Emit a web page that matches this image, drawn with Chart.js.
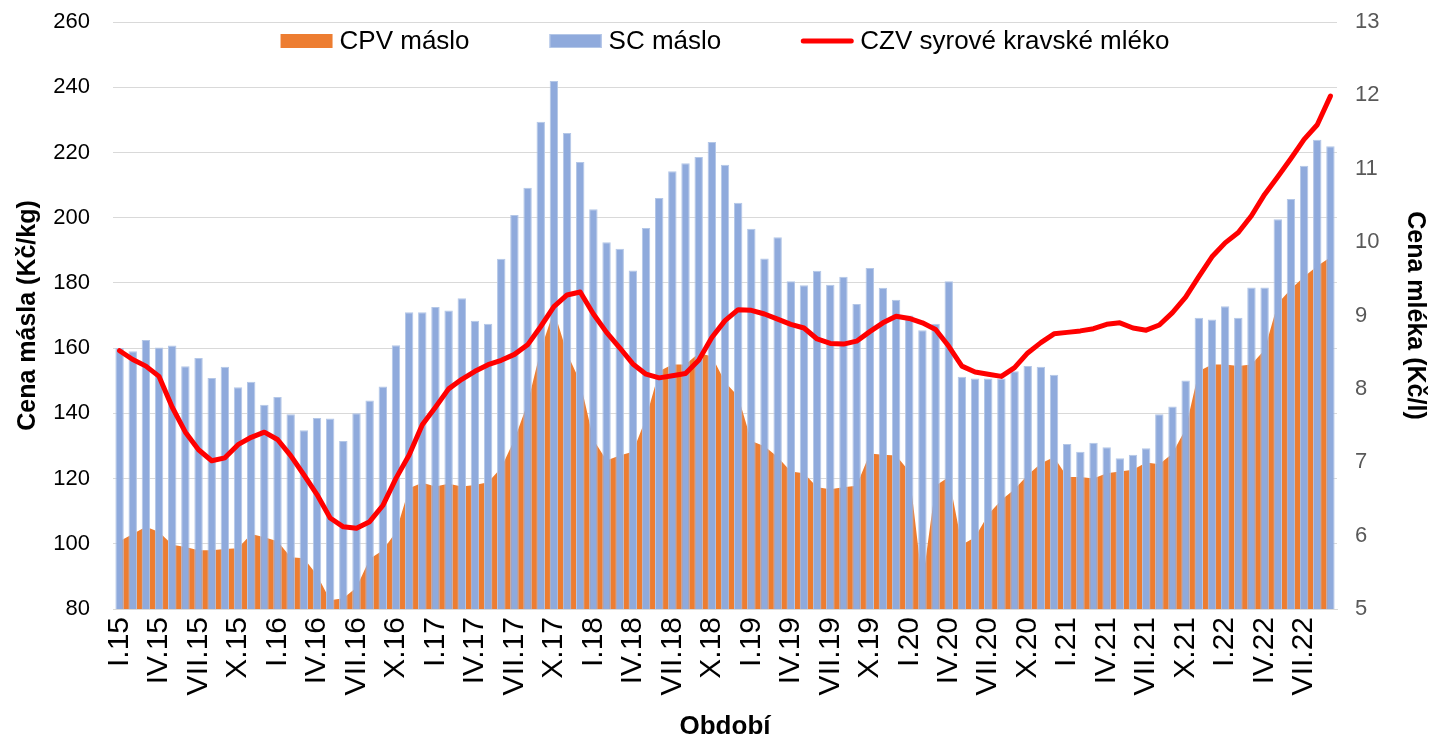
<!DOCTYPE html>
<html>
<head>
<meta charset="utf-8">
<script src="https://cdn.jsdelivr.net/npm/chart.js@4.4.1/dist/chart.umd.min.js"></script>
<style>
  html, body { margin: 0; padding: 0; background: #fff; }
  #chart { display: block; }
</style>
</head>
<body>
<canvas id="chart" width="1431" height="742"></canvas>
<script>
//---------------------------------------
// Data
//---------------------------------------

const roman = ['I', 'II', 'III', 'IV', 'V', 'VI', 'VII', 'VIII', 'IX', 'X', 'XI', 'XII'];

// období I.15 - IX.22
const months = [];
for (let y = 15; y <= 22; y++) {
  for (let m = 0; m < 12; m++) {
    if (y === 22 && m > 8) break;
    months.push(roman[m] + '.' + y);
  }
}

// CPV máslo (Kč/kg)
const cpv_maslo = [
  100.8, 103, 105.2, 103.6, 99.7, 99, 98, 98, 98.4, 98.6, 103, 102,
  100.8, 95.9, 95.6, 90.4, 82.7, 83.3, 86.6, 95.3, 98, 103.6, 117, 118.7,
  117.6, 118.4, 117.6, 118, 118.9, 123.3, 132, 143, 159.5, 171.5, 158.4, 149.6,
  132, 125.5, 127.1, 128.2, 138.6, 152.9, 155, 155, 158.4, 157.5, 149.6, 145.2,
  131.5, 129.9, 126.6, 122.2, 121.6, 117.3, 116.7, 117.3, 117.8, 127.7, 127.3, 127.1,
  122.2, 88, 117.8, 120.5, 99.7, 102, 109, 113.4, 116.7, 121.1, 124.6, 126.6,
  120.5, 120.5, 120, 121.6, 122.2, 122.7, 124.9, 124.4, 127.7, 135.3, 152.9, 155,
  155, 154.5, 155, 159.5, 173.7, 178.1, 181.9, 185.2, 187.9
];

// SC máslo (Kč/kg)
const sc_maslo = [
  160, 159, 162.5, 160.2, 160.8, 154.4, 157, 150.8, 154.3, 148, 149.7, 142.6,
  145, 139.7, 134.8, 138.6, 138.4, 131.5, 140, 143.9, 148.2, 160.9, 171, 171,
  172.6, 171.5, 175.3, 168.4, 167.5, 187.4, 200.8, 209.2, 229.4, 241.9, 226, 217.1,
  202.6, 192.5, 190.5, 183.8, 196.8, 206, 214.2, 216.7, 218.6, 223.2, 216.2, 204.6,
  196.6, 187.5, 194, 180.5, 179.3, 183.7, 179.4, 181.9, 173.5, 184.6, 178.5, 174.8,
  170, 165.5, 167.5, 180.5, 151.2, 150.7, 150.7, 150.7, 152.9, 154.5, 154.3, 151.8,
  130.6, 128.2, 131, 129.6, 126.2, 127.3, 129.3, 139.7, 142.1, 150.1, 169.3, 168.8,
  172.8, 169.3, 178.6, 178.6, 199.5, 205.7, 215.9, 223.9, 221.9
];

// CZV syrové kravské mléko (Kč/l)
const czv_mleko = [
  8.52, 8.40, 8.31, 8.17, 7.75, 7.41, 7.17, 7.02, 7.06, 7.24, 7.34, 7.41,
  7.31, 7.09, 6.83, 6.56, 6.24, 6.12, 6.10, 6.19, 6.41, 6.78, 7.10, 7.51,
  7.75, 8.00, 8.13, 8.24, 8.33, 8.39, 8.47, 8.60, 8.85, 9.12, 9.28, 9.32,
  9.02, 8.77, 8.56, 8.34, 8.20, 8.15, 8.18, 8.21, 8.39, 8.70, 8.93, 9.08,
  9.07, 9.02, 8.95, 8.88, 8.83, 8.68, 8.62, 8.61, 8.65, 8.78, 8.90, 8.99,
  8.96, 8.90, 8.81, 8.58, 8.31, 8.23, 8.20, 8.17, 8.29, 8.49, 8.63, 8.75,
  8.77, 8.79, 8.82, 8.88, 8.90, 8.83, 8.80, 8.87, 9.04, 9.25, 9.53, 9.80,
  9.99, 10.13, 10.36, 10.65, 10.89, 11.14, 11.40, 11.60, 11.99
];

//---------------------------------------
// Chart
//---------------------------------------

const font_family = "'Liberation Sans', Arial, sans-serif";
const grid_color = '#d9d9d9';

// legenda uvnitř grafu (jako v Excelu)
const inner_legend = {
  id: 'inner_legend',
  afterDraw(chart) {
    const ctx = chart.ctx;
    const area = chart.chartArea;
    const font_size = 26;
    const box_w = 52, box_h = 14, text_gap = 7, item_gap = 80;
    ctx.save();
    ctx.font = font_size + 'px ' + font_family;
    ctx.textBaseline = 'middle';

    const items = chart.data.datasets.map(function (ds) {
      return { ds: ds, w: box_w + text_gap + ctx.measureText(ds.label).width };
    });
    let total = -item_gap;
    items.forEach(function (it) { total += it.w + item_gap; });

    let x = (area.left + area.right) / 2 - total / 2;
    const y = area.top + 19;
    items.forEach(function (it) {
      const ds = it.ds;
      if (ds.fill === false) {
        ctx.strokeStyle = ds.borderColor;
        ctx.lineWidth = 5;
        ctx.lineCap = 'round';
        ctx.beginPath();
        ctx.moveTo(x + 2, y);
        ctx.lineTo(x + box_w - 2, y);
        ctx.stroke();
      } else {
        ctx.fillStyle = ds.backgroundColor;
        ctx.fillRect(x, y - box_h / 2, box_w, box_h);
        if (ds.type === 'bar') {
          ctx.strokeStyle = ds.borderColor;
          ctx.lineWidth = 1;
          ctx.strokeRect(x + 0.5, y - box_h / 2 + 0.5, box_w - 1, box_h - 1);
        }
      }
      ctx.fillStyle = '#000';
      ctx.fillText(ds.label, x + box_w + text_gap, y + 1);
      x += it.w + item_gap;
    });
    ctx.restore();
  }
};

const chart_data = {
  labels: months,
  datasets: [
    {
      type: 'line',
      label: 'CPV máslo',
      data: cpv_maslo,
      backgroundColor: '#ed7d31',
      borderColor: '#ed7d31',
      borderWidth: 0,
      pointRadius: 0,
      fill: 'start',
      yAxisID: 'y',
      order: 3
    },
    {
      type: 'bar',
      label: 'SC máslo',
      data: sc_maslo,
      backgroundColor: '#8faadc',
      borderColor: '#b4c7e7',
      borderWidth: 1,
      barPercentage: 0.64,
      categoryPercentage: 1.0,
      yAxisID: 'y',
      order: 2
    },
    {
      type: 'line',
      label: 'CZV syrové kravské mléko',
      data: czv_mleko,
      borderColor: '#ff0000',
      backgroundColor: '#ff0000',
      borderWidth: 5,
      pointRadius: 0,
      fill: false,
      borderJoinStyle: 'round',
      borderCapStyle: 'round',
      yAxisID: 'y1',
      order: 1
    }
  ]
};

// pevné rozměry os, aby plocha grafu seděla
function fit_vertical(width) {
  return function (scale) {
    scale.width = width;
    scale.paddingTop = 22;
    scale.paddingBottom = 0;
  };
}

const options = {
  responsive: false,
  animation: false,
  layout: { padding: 0 },
  plugins: {
    tooltip: { enabled: false },
    legend: { display: false }
  },
  scales: {
    x: {
      afterFit: function (scale) { scale.height = 133; },
      grid: { display: false },
      border: { color: grid_color, width: 1 },
      ticks: {
        autoSkip: false,
        maxRotation: 90,
        minRotation: 90,
        padding: 0,
        color: '#000',
        font: { family: font_family, size: 30 },
        callback: function (val, i) {
          return i % 3 === 0 ? this.getLabelForValue(val) : '';
        }
      },
      title: {
        display: true,
        text: 'Období',
        color: '#000',
        font: { family: font_family, size: 26, weight: 'bold' },
        padding: { top: 0, bottom: 0 }
      }
    },
    y: {
      afterFit: fit_vertical(113),
      position: 'left',
      min: 80,
      max: 260,
      grid: { color: grid_color, lineWidth: 1, drawTicks: false },
      border: { display: false },
      ticks: {
        stepSize: 20,
        padding: 23,
        color: '#000',
        font: { family: font_family, size: 22 }
      },
      title: {
        display: true,
        text: 'Cena másla (Kč/kg)',
        color: '#000',
        font: { family: font_family, size: 25, weight: 'bold' },
        padding: { top: 13, bottom: 0 }
      }
    },
    y1: {
      afterFit: fit_vertical(94),
      position: 'right',
      min: 5,
      max: 13,
      grid: { drawOnChartArea: false, drawTicks: false },
      border: { display: false },
      ticks: {
        stepSize: 1,
        padding: 18,
        color: '#595959',
        font: { family: font_family, size: 22 }
      },
      title: {
        display: true,
        text: 'Cena mléka (Kč/l)',
        color: '#000',
        font: { family: font_family, size: 25, weight: 'bold' },
        padding: { top: 1, bottom: 0 }
      }
    }
  }
};

new Chart(document.getElementById('chart'), {
  data: chart_data,
  options: options,
  plugins: [inner_legend]
});
</script>
</body>
</html>
